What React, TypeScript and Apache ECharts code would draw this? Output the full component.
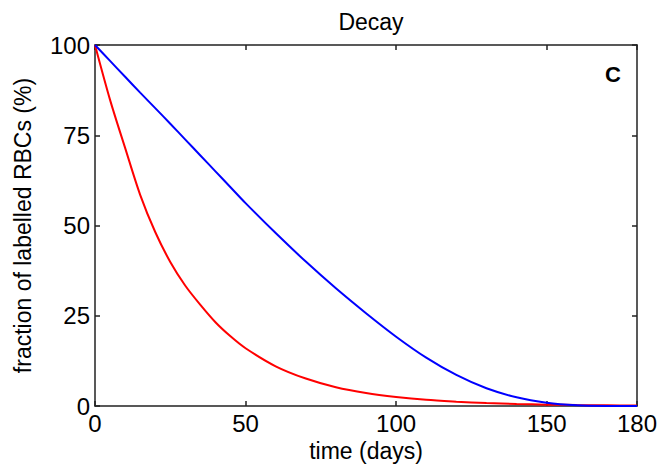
import React, { useEffect, useRef } from "react";
import * as echarts from "echarts";

const days = [0, 5, 10, 15, 20, 25, 30, 35, 40, 45, 50, 60, 70, 80, 90, 100, 110, 120, 130, 140, 150, 160, 170, 180];
const redValues = [100, 84.8, 71.5, 58.5, 48.2, 39.9, 33.3, 28, 23.2, 19.3, 16, 11, 7.6, 5.2, 3.6, 2.5, 1.7, 1.2, 0.8, 0.55, 0.38, 0.26, 0.18, 0.12];
const blueValues = [100, 95.6, 91.2, 86.8, 82.5, 78.2, 73.8, 69.4, 65, 60.6, 56.2, 47.9, 40, 32.6, 25.7, 19.2, 13.4, 8.6, 4.9, 2.4, 0.9, 0.2, 0.02, 0];
const xTicks = { min: 0, max: 180, interval: 50 };
const yTicks = { min: 0, max: 100, interval: 25 };

const FONT = "'Liberation Sans', Arial, Helvetica, sans-serif";

export default function App() {
  const ref = useRef<HTMLDivElement>(null);
  useEffect(() => {
    if (!ref.current) return;
    const chart = echarts.init(ref.current, undefined, { renderer: "svg" });
    const axisLine = { show: true, onZero: false, lineStyle: { color: "#222", width: 1.5 } };
    const tick = { show: true, inside: true, length: 5, lineStyle: { color: "#222", width: 1.5 } };
    const lbl = { color: "#000", fontSize: 24, fontFamily: FONT };
    const nameStyle = { color: "#000", fontSize: 23, fontFamily: FONT };
    chart.setOption({
      animation: false,
      backgroundColor: "#fff",
      title: {
        text: "Decay",
        left: 366,
        textAlign: "center",
        top: 5,
        textStyle: { color: "#000", fontSize: 23, fontWeight: "normal", fontFamily: FONT },
      },
      grid: { left: 95, right: 26, top: 45, bottom: 67, containLabel: false },
      xAxis: [
        {
          type: "value",
          ...xTicks,
          position: "bottom",
          axisLine,
          axisTick: tick,
          splitLine: { show: false },
          axisLabel: { ...lbl, margin: 5 },
          name: "time (days)",
          nameLocation: "middle",
          nameGap: 33,
          nameTextStyle: { ...nameStyle, verticalAlign: "top" },
        },
        {
          type: "value",
          ...xTicks,
          position: "top",
          axisLine,
          axisTick: tick,
          splitLine: { show: false },
          axisLabel: { show: false },
        },
      ],
      yAxis: [
        {
          type: "value",
          ...yTicks,
          position: "left",
          axisLine,
          axisTick: tick,
          splitLine: { show: false },
          axisLabel: { ...lbl, margin: 5 },
          name: "fraction of labelled RBCs (%)",
          nameLocation: "middle",
          nameGap: 61,
          nameTextStyle: nameStyle,
        },
        {
          type: "value",
          ...yTicks,
          position: "right",
          axisLine,
          axisTick: tick,
          splitLine: { show: false },
          axisLabel: { show: false },
        },
      ],
      graphic: [
        {
          type: "text",
          right: 42,
          top: 63,
          style: { text: "C", fontSize: 22, fontWeight: "bold", fontFamily: FONT, fill: "#000" },
        },
      ],
      series: [
        {
          type: "line",
          name: "red",
          data: days.map((d, i) => [d, redValues[i]]),
          smooth: 0.3,
          showSymbol: false,
          lineStyle: { color: "#ff0000", width: 2 },
          z: 3,
        },
        {
          type: "line",
          name: "blue",
          data: days.map((d, i) => [d, blueValues[i]]),
          smooth: 0.3,
          showSymbol: false,
          lineStyle: { color: "#0000ff", width: 2 },
          z: 4,
        },
      ],
    });
    return () => chart.dispose();
  }, []);
  return <div ref={ref} style={{ width: 663, height: 473, position: "absolute", left: 0, top: 0 }} />;
}
